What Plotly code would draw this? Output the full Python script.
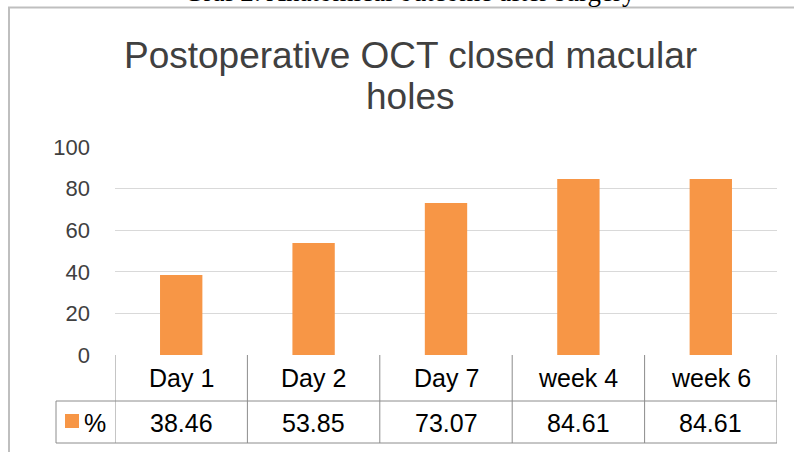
import plotly.graph_objects as go

categories = ["Day 1", "Day 2", "Day 7", "week 4", "week 6"]
values = [38.46, 53.85, 73.07, 84.61, 84.61]
series_name = "%"
y_ticks = [0, 20, 40, 60, 80, 100]
title_lines = ["Postoperative OCT closed macular", "holes"]
caption_text = "Graf 2: Anatomical outcome after surgery"

ORANGE = "#F79646"
GRID = "#d9d9d9"
BORDER = "#8c8c8c"
FONT = "Liberation Sans, Arial"

W, H = 794, 452
L, R, T, B = 115, 17, 147, 97
plot_h = H - T - B


def py(p):
    """pixel y -> paper y"""
    return (H - B - p) / plot_h


def px(p):
    return (p - L) / (W - L - R)


fig = go.Figure()
fig.add_trace(go.Bar(x=categories, y=values, name=series_name,
                     marker=dict(color=ORANGE, line=dict(width=0)),
                     width=0.32, showlegend=False, hoverinfo="x+y"))

shapes = []
annotations = []

# table borders
row_top = py(H - B)
row_mid = py(401)
row_bot = py(443)
n = len(categories)
line = dict(color=BORDER, width=1)
shapes.append(dict(type="line", xref="x", yref="paper", x0=-0.5, x1=n - 0.5, y0=row_mid, y1=row_mid, line=line))
shapes.append(dict(type="line", xref="paper", yref="paper", x0=px(56), x1=1, y0=row_bot, y1=row_bot, line=line))
shapes.append(dict(type="line", xref="paper", yref="paper", x0=px(56), x1=0, y0=row_mid, y1=row_mid, line=line))
shapes.append(dict(type="line", xref="paper", yref="paper", x0=px(56), x1=px(56), y0=row_mid, y1=row_bot, line=line))
for i in range(n + 1):
    shapes.append(dict(type="line", xref="x", yref="paper", x0=i - 0.5, x1=i - 0.5,
                       y0=row_top, y1=row_bot, line=line))

for i, (c, v) in enumerate(zip(categories, values)):
    annotations.append(dict(x=c, xref="x", y=py(378), yref="paper",
                            text=c, showarrow=False, xanchor="center", yanchor="middle",
                            font=dict(family=FONT, size=25, color="#000000")))
    annotations.append(dict(x=c, xref="x", y=py(423), yref="paper",
                            text=f"{v:.2f}", showarrow=False, xanchor="center", yanchor="middle",
                            font=dict(family=FONT, size=25, color="#000000")))

# legend key in table
shapes.append(dict(type="rect", xref="paper", yref="paper", x0=px(65), x1=px(79), y0=py(428), y1=py(414),
                   fillcolor=ORANGE, line=dict(width=0)))
annotations.append(dict(x=px(82), xref="paper", y=py(423), yref="paper",
                        text=series_name, showarrow=False, xanchor="left", yanchor="middle",
                        font=dict(family=FONT, size=25, color="#000000")))

# outer frame (top and left)
shapes.append(dict(type="line", xref="paper", yref="paper", x0=px(8), x1=px(794), y0=py(7.5), y1=py(7.5),
                   line=dict(color="#bfbfbf", width=2)))
shapes.append(dict(type="line", xref="paper", yref="paper", x0=px(9), x1=px(9), y0=py(7), y1=py(452),
                   line=dict(color="#bfbfbf", width=2)))

# cut-off caption at top (only its lower edge is visible in the source image)
annotations.append(dict(x=px(410), xref="paper", y=py(9), yref="paper", text=caption_text,
                        showarrow=False, xanchor="center", yanchor="bottom",
                        font=dict(family="Liberation Serif, Times New Roman", size=27, color="#000000")))

# title (two lines)
for txt, yc in zip(title_lines, [55, 96]):
    annotations.append(dict(x=px(410), xref="paper", y=py(yc), yref="paper", text=txt,
                            showarrow=False, xanchor="center", yanchor="middle",
                            font=dict(family=FONT, size=37, color="#404040")))

fig.update_layout(
    width=W, height=H,
    margin=dict(l=L, r=R, t=T, b=B, pad=0),
    paper_bgcolor="white", plot_bgcolor="white",
    shapes=shapes, annotations=annotations,
    xaxis=dict(showticklabels=False, showgrid=False, zeroline=False, showline=False, ticks="",
               range=[-0.5, n - 0.5]),
    yaxis=dict(range=[0, 100], tickvals=y_ticks, showgrid=True, gridcolor=GRID, gridwidth=1,
               zeroline=False, showline=False, ticks="", ticklabelstandoff=24,
               tickfont=dict(family=FONT, size=22, color="#404040")),
    showlegend=False,
)

fig.write_html("out.html", config={"displayModeBar": False},
               post_script="document.body.style.margin='0';document.body.style.overflow='hidden';")
